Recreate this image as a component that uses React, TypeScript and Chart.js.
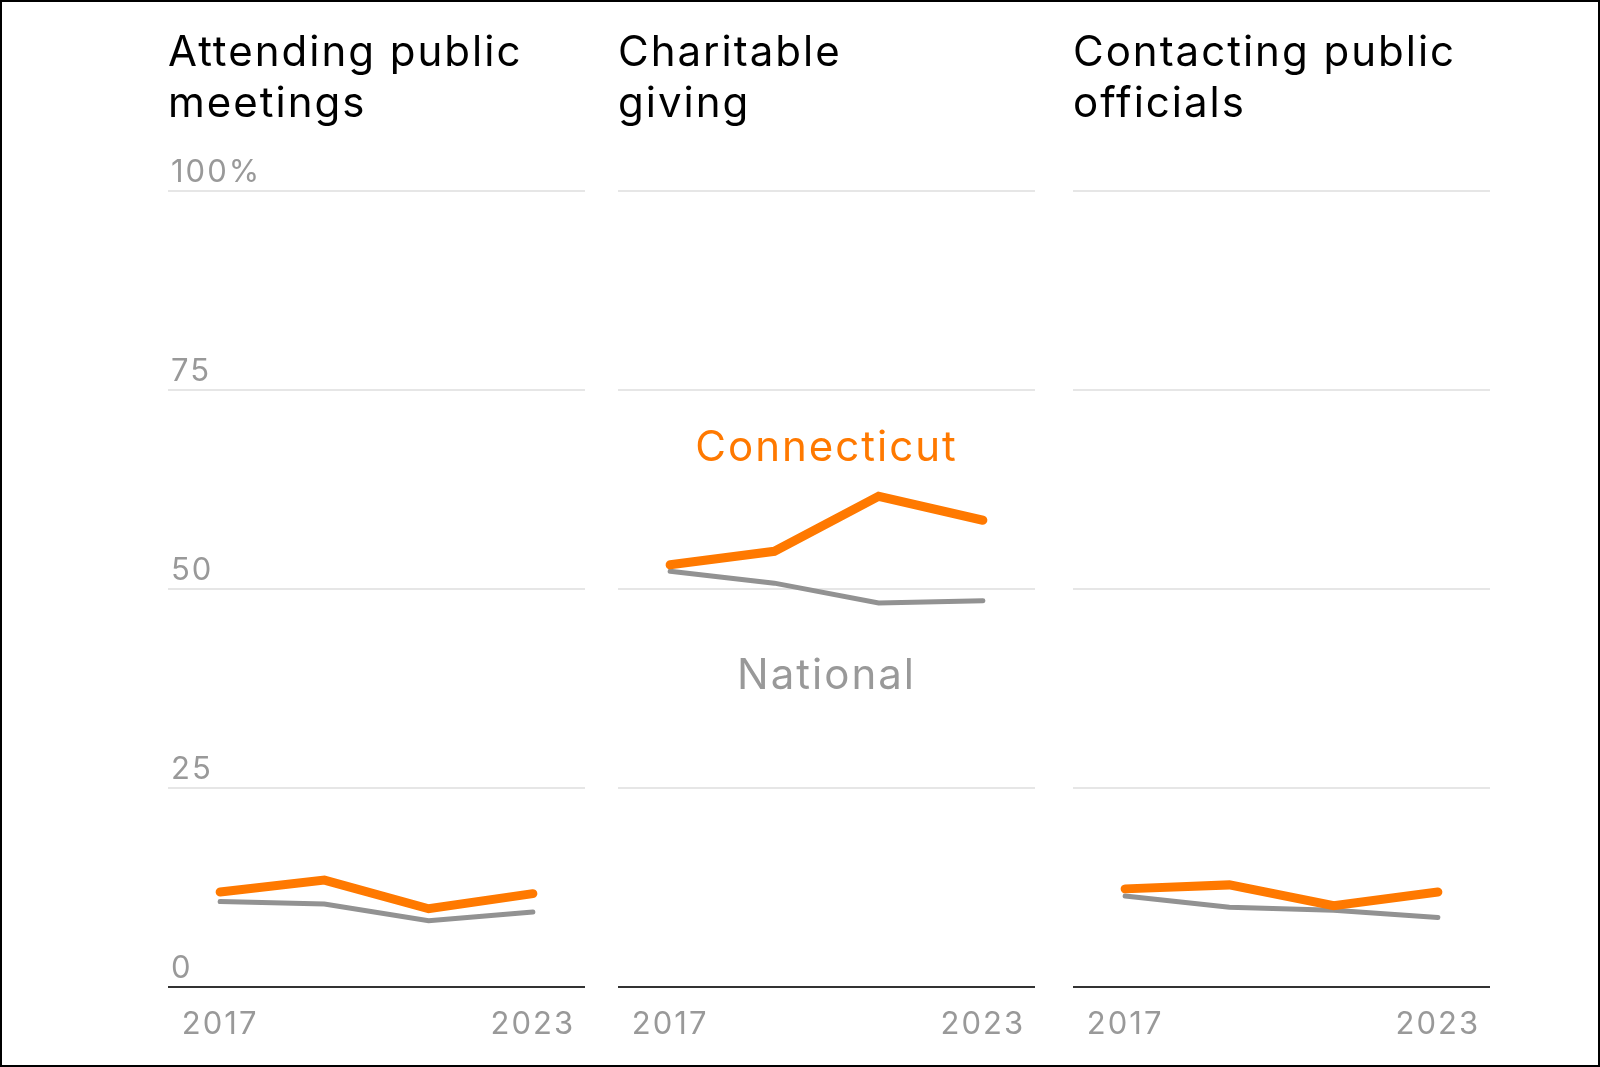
import React, { useEffect, useRef } from 'react';
import { Chart, registerables } from 'chart.js';

Chart.register(...registerables);

// ---- data ----
const years = [2017, 2019, 2021, 2023];
const xTickYears = [2017, 2023];
const yTickValues = [0, 25, 50, 75, 100];
const seriesNames = ['Connecticut', 'National'];

const panelTitles = [
  ['Attending public', 'meetings'],
  ['Charitable', 'giving'],
  ['Contacting public', 'officials'],
];

const meetingsCT = [11.9, 13.4, 9.8, 11.7];
const meetingsUS = [10.7, 10.4, 8.3, 9.4];
const givingCT = [53.0, 54.7, 61.6, 58.6];
const givingUS = [52.2, 50.7, 48.2, 48.5];
const officialsCT = [12.3, 12.8, 10.2, 11.9];
const officialsUS = [11.4, 10.0, 9.6, 8.7];

// ---- styling ----
const FONT = "Inter, 'Noto Sans', 'DejaVu Sans', sans-serif";
const ORANGE = '#ff7900';
const LINE_GRAY = '#929292';
const TEXT_GRAY = '#999999';
const GRID = '#e6e6e6';

const PANEL_LEFTS = [168, 618, 1073];
const PANEL_WIDTH = 417;
const PANEL_HEIGHT = 1062;

const letterSpacingPlugin = {
  id: 'letterSpacing',
  beforeDraw(chart: any) {
    const ctx: any = chart.ctx;
    if ('letterSpacing' in ctx) ctx.letterSpacing = '2px';
  },
};

const seriesLabelPlugin = {
  id: 'seriesLabels',
  afterDatasetsDraw(chart: any, _args: any, opts: any) {
    const items = (opts && opts.items) || [];
    if (!items.length) return;
    const { ctx, chartArea, scales } = chart;
    ctx.save();
    for (const it of items) {
      ctx.font = `${it.size}px ${FONT}`;
      ctx.fillStyle = it.color;
      ctx.textAlign = 'center';
      ctx.textBaseline = 'middle';
      ctx.fillText(
        it.text,
        (chartArea.left + chartArea.right) / 2,
        scales.y.getPixelForValue(it.value)
      );
    }
    ctx.restore();
  },
};

function toPoints(vals: number[]) {
  return years.map((yr, i) => ({ x: yr, y: vals[i] }));
}

type PanelProps = {
  title: string[];
  ct: number[];
  us: number[];
  left: number;
  showYTicks: boolean;
  showLabels: boolean;
};

function Panel({ title, ct, us, left, showYTicks, showLabels }: PanelProps) {
  const ref = useRef<HTMLCanvasElement | null>(null);

  useEffect(() => {
    if (!ref.current) return;
    const chart = new Chart(ref.current, {
      type: 'line',
      data: {
        datasets: [
          {
            label: seriesNames[0],
            data: toPoints(ct),
            borderColor: ORANGE,
            borderWidth: 9,
            borderCapStyle: 'round',
            borderJoinStyle: 'miter',
            pointRadius: 0,
            pointHoverRadius: 0,
            tension: 0,
            fill: false,
          },
          {
            label: seriesNames[1],
            data: toPoints(us),
            borderColor: LINE_GRAY,
            borderWidth: 5,
            borderCapStyle: 'round',
            borderJoinStyle: 'miter',
            pointRadius: 0,
            pointHoverRadius: 0,
            tension: 0,
            fill: false,
          },
        ],
      },
      plugins: [letterSpacingPlugin as any, seriesLabelPlugin as any],
      options: {
        animation: false,
        responsive: true,
        maintainAspectRatio: false,
        layout: { padding: 0 },
        events: [],
        scales: {
          x: {
            type: 'linear',
            position: 'bottom',
            min: 2016,
            max: 2024,
            afterBuildTicks: (s: any) => {
              s.ticks = xTickYears.map((v) => ({ value: v }));
            },
            afterFit: (s: any) => {
              s.paddingLeft = 0;
              s.paddingRight = 0;
            },
            grid: { display: false, drawTicks: false },
            border: { display: true, color: '#333333', width: 2 },
            ticks: {
              color: TEXT_GRAY,
              font: { size: 31, family: FONT },
              padding: 19,
              maxRotation: 0,
              autoSkip: false,
              callback: (v: any) => String(v),
            },
          },
          y: {
            type: 'linear',
            position: 'left',
            min: 0,
            max: 100,
            afterBuildTicks: (s: any) => {
              s.ticks = yTickValues.map((v) => ({ value: v }));
            },
            afterFit: (s: any) => {
              s.paddingTop = 0;
              s.paddingBottom = 0;
              s.width = 0;
            },
            grid: { display: true, color: GRID, lineWidth: 2, drawTicks: false },
            border: { display: false },
            ticks: {
              display: showYTicks,
              mirror: true,
              padding: 3,
              labelOffset: -18,
              color: TEXT_GRAY,
              font: { size: 31, family: FONT },
              callback: (v: any) => (v === 100 ? '100%' : String(v)),
            },
          },
        },
        plugins: {
          legend: { display: false },
          tooltip: { enabled: false },
          title: {
            display: true,
            text: title,
            align: 'start',
            color: '#000000',
            font: { size: 42, family: FONT, weight: 'normal', lineHeight: 1.21 },
            padding: { top: 28, bottom: 61 },
          },
          seriesLabels: {
            items: showLabels
              ? [
                  { text: seriesNames[0], value: 67.6, color: ORANGE, size: 42 },
                  { text: seriesNames[1], value: 39.0, color: TEXT_GRAY, size: 42 },
                ]
              : [],
          },
        } as any,
      },
    } as any);
    return () => chart.destroy();
  }, [title, ct, us, showYTicks, showLabels]);

  return (
    <div
      style={{
        position: 'absolute',
        left,
        top: 0,
        width: PANEL_WIDTH,
        height: PANEL_HEIGHT,
      }}
    >
      <canvas ref={ref} />
    </div>
  );
}

export default function App() {
  return (
    <div
      style={{
        position: 'fixed',
        left: 0,
        top: 0,
        width: 1600,
        height: 1067,
        background: '#ffffff',
        overflow: 'hidden',
      }}
    >
      <Panel title={panelTitles[0]} ct={meetingsCT} us={meetingsUS} left={PANEL_LEFTS[0]} showYTicks={true} showLabels={false} />
      <Panel title={panelTitles[1]} ct={givingCT} us={givingUS} left={PANEL_LEFTS[1]} showYTicks={false} showLabels={true} />
      <Panel title={panelTitles[2]} ct={officialsCT} us={officialsUS} left={PANEL_LEFTS[2]} showYTicks={false} showLabels={false} />
      <div
        style={{
          position: 'absolute',
          inset: 0,
          border: '2px solid #000000',
          boxSizing: 'border-box',
          pointerEvents: 'none',
        }}
      />
    </div>
  );
}
